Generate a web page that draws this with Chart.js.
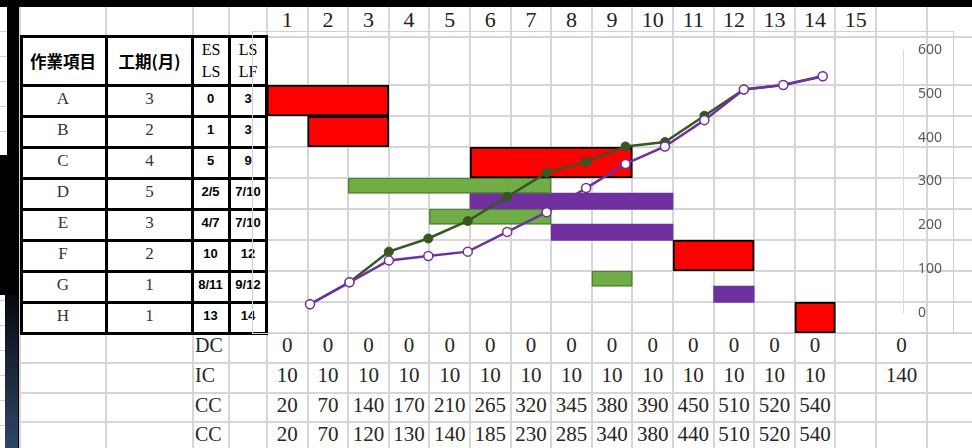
<!DOCTYPE html>
<html>
<head>
<meta charset="utf-8">
<script src="https://cdn.jsdelivr.net/npm/chart.js@4.4.0/dist/chart.umd.min.js"></script>
<style>
  html, body { margin: 0; padding: 0; background: #fff; width: 972px; height: 448px; overflow: hidden; position: relative; }
  #sheet { position: absolute; left: 0; top: 0; width: 972px; height: 448px; font-family: "Liberation Serif", serif; color: #262626; }
  #chart { position: absolute; left: 0; top: 0; z-index: 5; }
</style>
</head>
<body>
<div id="sheet"></div>
<canvas id="chart" width="972" height="448"></canvas>
<script>
// ---------- schedule data ----------
const taskNames   = ['A', 'B', 'C', 'D', 'E', 'F', 'G', 'H'];
const durations   = [3, 2, 4, 5, 3, 2, 1, 1];
const esLabels    = ['0', '1', '5', '2/5', '4/7', '10', '8/11', '13'];
const lfLabels    = ['3', '3', '9', '7/10', '7/10', '12', '9/12', '14'];
const monthLabels = [1, 2, 3, 4, 5, 6, 7, 8, 9, 10, 11, 12, 13, 14, 15];

// [start, end] in months for each task (null = no bar in that row)
const criticalSpans = [[0, 3], [1, 3], [5, 9], null, null, [10, 12], null, [13, 14]];
const earlySpans    = [null, null, null, [2, 7], [4, 7], null, [8, 9], null];
const lateSpans     = [null, null, null, [5, 10], [7, 10], null, [11, 12], null];

// ---------- cost data per month ----------
const periods  = [1, 2, 3, 4, 5, 6, 7, 8, 9, 10, 11, 12, 13, 14];
const dcValues = [0, 0, 0, 0, 0, 0, 0, 0, 0, 0, 0, 0, 0, 0];
const icValues = [10, 10, 10, 10, 10, 10, 10, 10, 10, 10, 10, 10, 10, 10];
const ccEarly  = [20, 70, 140, 170, 210, 265, 320, 345, 380, 390, 450, 510, 520, 540];
const ccLate   = [20, 70, 120, 130, 140, 185, 230, 285, 340, 380, 440, 510, 520, 540];
const dcTotal  = 0;
const icTotal  = 140;
const costTicks = [0, 100, 200, 300, 400, 500, 600];

// ---------- layout ----------
const W = 972, H = 448;
const LEFT = 267, RIGHT = 903, TOP = 50, BOTTOM = 313, AXIS_W = 50;
const AREA_W = RIGHT - LEFT, AREA_H = BOTTOM - TOP;
const COL_W = 40.6;                 // one month column
const ROW_Y0 = 85, ROW_H = 31;      // task rows
const POINT_X0 = 310, POINT_STEP = 39.44;
const colX = k => LEFT + COL_W * k;

// ---------- spreadsheet backdrop ----------
const sheet = document.getElementById('sheet');
function el(x, y, w, h, style, html) {
  const d = document.createElement('div');
  d.style.cssText = `position:absolute;left:${x}px;top:${y}px;width:${w}px;height:${h}px;` + (style || '');
  if (html !== undefined) d.innerHTML = html;
  sheet.appendChild(d);
  return d;
}
const CENTER = 'display:flex;align-items:center;justify-content:center;white-space:nowrap;box-sizing:border-box;';

// window frame on the left / top
el(0, 0, W, 7, 'background:#000');
el(0, 7, 20, H - 7, 'background:#000');
el(0, 7, 7, 148, 'background:#fff');
[31, 56, 81, 106, 131].forEach(y => el(0, y, 7, 1, 'background:#d0d0d0'));
el(0, 295, 5, H - 295, 'background:#fff');
[300, 325, 350, 375, 400, 425].forEach(y => el(0, y, 5, 1, 'background:#d0d0d0'));
el(5, 295, 13, H - 295, 'background:linear-gradient(#07090e,#2f4668)');

// cell grid
const GRID = 'background:#d6d6d6';
const gridXs = [20, 106, 193, 229, LEFT];
for (let k = 1; k <= monthLabels.length; k++) gridXs.push(colX(k));
gridXs.push(927);
gridXs.forEach(x => el(x - 1, 7, 2, H - 7, GRID));
const gridYs = [37];
for (let k = 0; k <= taskNames.length; k++) gridYs.push(ROW_Y0 + ROW_H * k);
gridYs.push(363, 393, 422);
gridYs.forEach(y => el(20, y - 1, W - 20, 2, GRID));

// month header
monthLabels.forEach((m, i) => {
  el(colX(i), 7, COL_W, 30, CENTER + 'font-size:22px;color:#222;padding-bottom:4px', String(m));
});

// task table
el(20, 36, LEFT - 20, 297, 'background:#fff');
const hdr = 'font-family:"Noto Sans CJK TC";font-weight:bold;font-size:16.5px;color:#000;';
el(20, 37, 86, 48, CENTER + hdr, '作業項目');
el(106, 37, 87, 48, CENTER + hdr, '工期(月)');
const hdr2 = 'text-align:center;font-size:16px;line-height:21.5px;color:#000;padding-top:2px;box-sizing:border-box;';
el(193, 37, 36, 48, hdr2, 'ES<br>LS');
el(229, 37, 38, 48, hdr2, 'LS<br>LF');
const bodyTxt = CENTER + 'font-size:17px;color:#333;padding-bottom:4px;';
const valTxt = CENTER + 'font-family:"Liberation Sans";font-weight:bold;font-size:13px;color:#000;padding-bottom:4px;';
taskNames.forEach((t, r) => {
  const y = ROW_Y0 + ROW_H * r;
  el(20, y, 86, ROW_H, bodyTxt, t);
  el(106, y, 87, ROW_H, bodyTxt, String(durations[r]));
  el(192, y, 37, ROW_H, valTxt, esLabels[r]);
  el(229, y, 38, ROW_H, valTxt, lfLabels[r]);
});
// thick table rules
[21.5, 106, 192, 229, 266].forEach(x => el(x - 1.5, 35, 3, 299.5, 'background:#000'));
const ruleYs = [36.5];
for (let k = 0; k <= taskNames.length; k++) ruleYs.push(ROW_Y0 + ROW_H * k);
ruleYs.forEach(y => el(20, y - 1.5, 248, 3, 'background:#000'));

// cost rows
const costRows = [
  { label: 'DC', values: dcValues, total: dcTotal, y: 333, h: 30 },
  { label: 'IC', values: icValues, total: icTotal, y: 363, h: 30 },
  { label: 'CC', values: ccEarly, total: null, y: 393, h: 29 },
  { label: 'CC', values: ccLate, total: null, y: 422, h: 30 }
];
const numTxt = CENTER + 'font-size:21px;color:#262626;padding-bottom:5px;';
costRows.forEach(row => {
  el(195, row.y, 72, row.h, 'display:flex;align-items:center;font-size:20px;color:#262626;padding-bottom:5px;box-sizing:border-box;', row.label);
  row.values.forEach((v, i) => el(colX(i), row.y, COL_W, row.h, numTxt, String(v)));
  if (row.total !== null) el(876, row.y, 51, row.h, numTxt, String(row.total));
});

// chart object frame
el(252, 31, 702, 303, 'border:1px solid #d0d0d0;box-sizing:border-box;');

// ---------- chart ----------
function spanPoints(spans, shift) {
  const out = [];
  spans.forEach((s, r) => { if (s) out.push({ y: r + shift, x: s }); });
  return out;
}
const rowMin = -((ROW_Y0 + ROW_H / 2) - TOP) / ROW_H;
const rowMax = rowMin + AREA_H / ROW_H;
const lineMin = periods[0] - (POINT_X0 - LEFT) / POINT_STEP;
const lineMax = lineMin + AREA_W / POINT_STEP;

const barCommon = {
  type: 'bar', indexAxis: 'y', xAxisID: 'xBar', yAxisID: 'yRow',
  grouped: false, borderSkipped: false, clip: false
};

new Chart(document.getElementById('chart'), {
  type: 'bar',
  data: {
    datasets: [
      {
        type: 'line', label: 'CC (LS)', xAxisID: 'xLine', yAxisID: 'yVal', order: 0,
        data: periods.map((p, i) => ({ x: p, y: ccLate[i] })),
        borderColor: '#7030a0', backgroundColor: '#7030a0', borderWidth: 2.5,
        pointRadius: 4.5, pointBackgroundColor: '#ffffff', pointBorderColor: '#7030a0', pointBorderWidth: 1.5,
        tension: 0, clip: false
      },
      {
        type: 'line', label: 'CC (ES)', xAxisID: 'xLine', yAxisID: 'yVal', order: 1,
        data: periods.map((p, i) => ({ x: p, y: ccEarly[i] })),
        borderColor: '#375623', backgroundColor: '#375623', borderWidth: 2.5,
        pointRadius: 4.5, pointBackgroundColor: '#375623', pointBorderColor: '#375623', pointBorderWidth: 1,
        tension: 0, clip: false
      },
      Object.assign({}, barCommon, {
        label: 'critical', order: 2, data: spanPoints(criticalSpans, 0),
        barThickness: ROW_H, backgroundColor: '#ff0000', borderColor: '#000000', borderWidth: 2
      }),
      Object.assign({}, barCommon, {
        label: 'early', order: 3, data: spanPoints(earlySpans, -0.25),
        barThickness: ROW_H / 2, backgroundColor: '#70ad47', borderColor: '#507e32', borderWidth: 1.5
      }),
      Object.assign({}, barCommon, {
        label: 'late', order: 4, data: spanPoints(lateSpans, 0.25),
        barThickness: ROW_H / 2 + 1, backgroundColor: '#7030a0', borderWidth: 0
      })
    ]
  },
  options: {
    responsive: false,
    animation: false,
    devicePixelRatio: 1,
    events: [],
    layout: { padding: { left: LEFT, right: W - RIGHT - AXIS_W, top: TOP, bottom: H - BOTTOM } },
    plugins: { legend: { display: false }, tooltip: { enabled: false } },
    scales: {
      xBar:  { type: 'linear', display: false, offset: false, min: 0, max: AREA_W / COL_W },
      yRow:  { type: 'linear', display: false, offset: false, reverse: true, min: rowMin, max: rowMax },
      xLine: { type: 'linear', display: false, offset: false, min: lineMin, max: lineMax },
      yVal: {
        type: 'linear', position: 'right', offset: false,
        min: costTicks[0], max: costTicks[costTicks.length - 1],
        grid: { display: false, drawTicks: false },
        border: { display: true, color: '#d9d9d9', width: 1 },
        ticks: { padding: 15, color: '#595959', font: { family: 'Noto Sans', size: 14 } },
        afterBuildTicks: s => { s.ticks = costTicks.map(v => ({ value: v })); },
        afterFit: s => { s.width = AXIS_W; }
      }
    }
  }
});
</script>
</body>
</html>
